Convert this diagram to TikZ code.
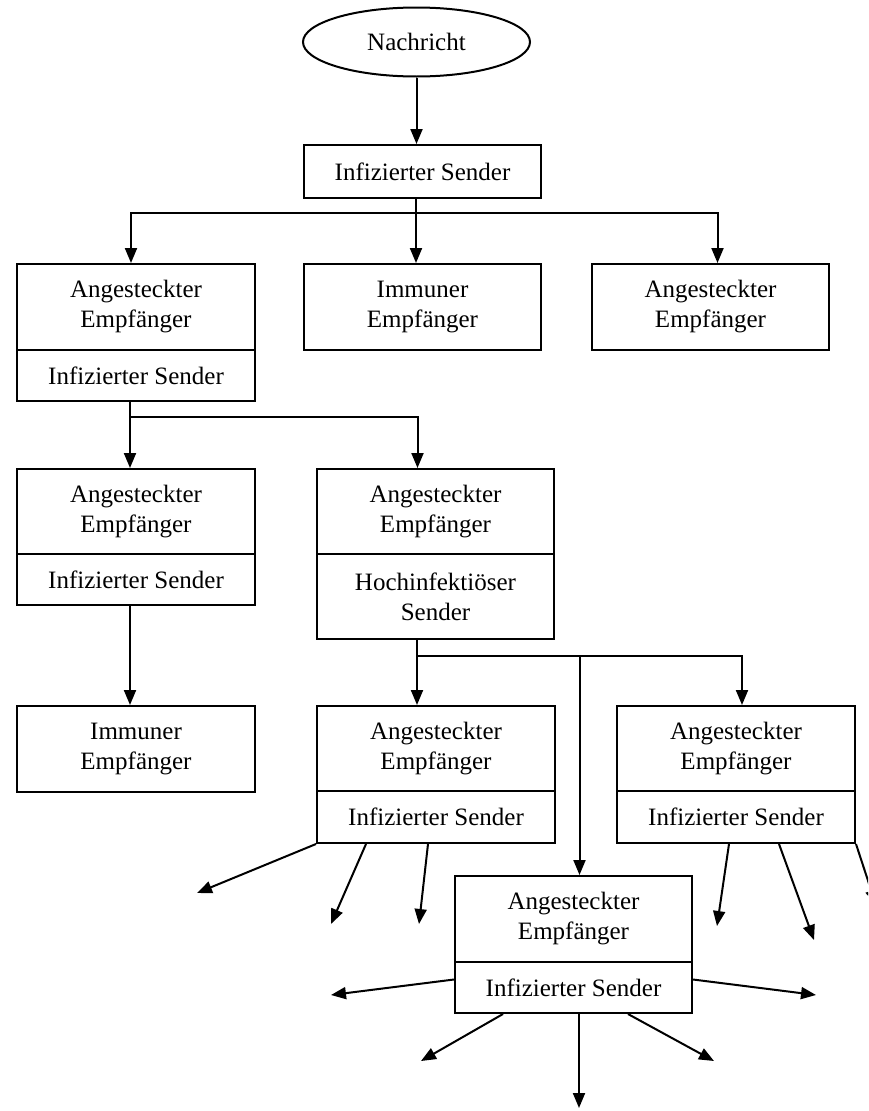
\documentclass[tikz,border=0pt]{standalone}
\usepackage{fontspec}
\setmainfont{Liberation Serif}
\usetikzlibrary{arrows.meta,shapes.geometric}
\begin{document}
\begin{tikzpicture}[x=1pt,y=-1pt,
  every node/.style={font=\fontsize{25}{30}\selectfont},
  box/.style={draw, rectangle, inner sep=0pt, align=center, anchor=north west,
              line width=2pt, minimum width=238pt},
  upper/.style={box, minimum height=86pt},
  lower/.style={box, minimum height=51pt},
  conn/.style={line width=2pt},
  arr/.style={conn, -{Triangle[width=12pt,length=15pt]}},
]
\useasboundingbox (0,0) rectangle (868,1111);
\fill[white] (0,0) rectangle (868,1111);
\clip (0,0) rectangle (868,1111);

% message and first sender
\node[draw, ellipse, line width=2pt, minimum width=227pt, minimum height=69pt,
      inner sep=0pt] (msg) at (416.5,42) {Nachricht};
\node[box, minimum width=237pt, minimum height=53pt] (top) at (303,144) {Infizierter Sender};

% first generation of receivers
\node[upper] (a1)  at (16,263)  {Angesteckter\\Empfänger};
\node[lower] (a1s) at (16,349)  {Infizierter Sender};
\node[upper, minimum width=237pt] (imm1) at (303,263) {Immuner\\Empfänger};
\node[upper, minimum width=237pt] (a2)   at (591,263) {Angesteckter\\Empfänger};

% second generation
\node[upper, minimum height=85pt] (a3)  at (16,468)  {Angesteckter\\Empfänger};
\node[lower] (a3s) at (16,553)  {Infizierter Sender};
\node[upper, minimum width=237pt, minimum height=85pt] (hoch)  at (316,468) {Angesteckter\\Empfänger};
\node[lower, minimum width=237pt, minimum height=85pt] (hochs) at (316,553) {Hochinfektiöser\\Sender};

% third generation
\node[upper] (imm2) at (16,705) {Immuner\\Empfänger};
\node[upper, minimum height=85pt] (a4)  at (316,705) {Angesteckter\\Empfänger};
\node[lower, minimum height=52pt] (a4s) at (316,790) {Infizierter Sender};
\node[upper, minimum height=85pt] (a5)  at (616,705) {Angesteckter\\Empfänger};
\node[lower, minimum height=52pt] (a5s) at (616,790) {Infizierter Sender};
\node[upper, minimum width=237pt] (a6)  at (454,875) {Angesteckter\\Empfänger};
\node[lower, minimum width=237pt] (a6s) at (454,961) {Infizierter Sender};

% junctions of the branching connectors
\coordinate (j1) at (416,213);
\coordinate (j2) at (130,417);
\coordinate (j3) at (417,656);

% tree connectors
\draw[arr] (msg.south) -- (msg.south |- top.north);
\draw[arr] (top.south -| j1) -- (j1 |- imm1.north);
\draw[arr] (j1) -| ([xshift=-5pt]a1.north);
\draw[arr] (j1) -| ([xshift=7pt]a2.north);

\draw[arr] (a1s.south -| j2) -- (j2 |- a3.north);
\draw[arr] (j2) -| ([xshift=-18pt]hoch.north);
\draw[arr] (a3s.south -| j2) -- (j2 |- imm2.north);

\draw[arr] (hochs.south -| j3) -- (j3 |- a4.north);
\draw[arr] (j3) -| ([xshift=6pt]a5.north);
\draw[arr] ([xshift=6pt]a6.north |- j3) -- ([xshift=6pt]a6.north);

% further spreading, open ends
\coordinate (e1)  at (197,893);
\coordinate (e2)  at (331,924);
\coordinate (e3)  at (419,924);
\coordinate (e4)  at (717,926);
\coordinate (e5)  at (814,940);
\coordinate (e6)  at (876,905);
\coordinate (e7)  at (331,995);
\coordinate (e8)  at (816,995);
\coordinate (e9)  at (421,1061);
\coordinate (e10) at (579,1108);
\coordinate (e11) at (714,1061);

\draw[arr] (a4s.south west) -- (e1);
\draw[arr] ([xshift=50pt]a4s.south west) -- (e2);
\draw[arr] ([xshift=112pt]a4s.south west) -- (e3);

\draw[arr] ([xshift=113pt]a5s.south west) -- (e4);
\draw[arr] ([xshift=163pt]a5s.south west) -- (e5);
\draw[arr] (a5s.south east) -- (e6);

\draw[arr] ([yshift=8pt]a6s.west) -- (e7);
\draw[arr] ([yshift=8pt]a6s.east) -- (e8);
\draw[arr] ([xshift=49pt]a6s.south west) -- (e9);
\draw[arr] ([xshift=125pt]a6s.south west) -- (e10);
\draw[arr] ([xshift=174pt]a6s.south west) -- (e11);
\end{tikzpicture}
\end{document}
